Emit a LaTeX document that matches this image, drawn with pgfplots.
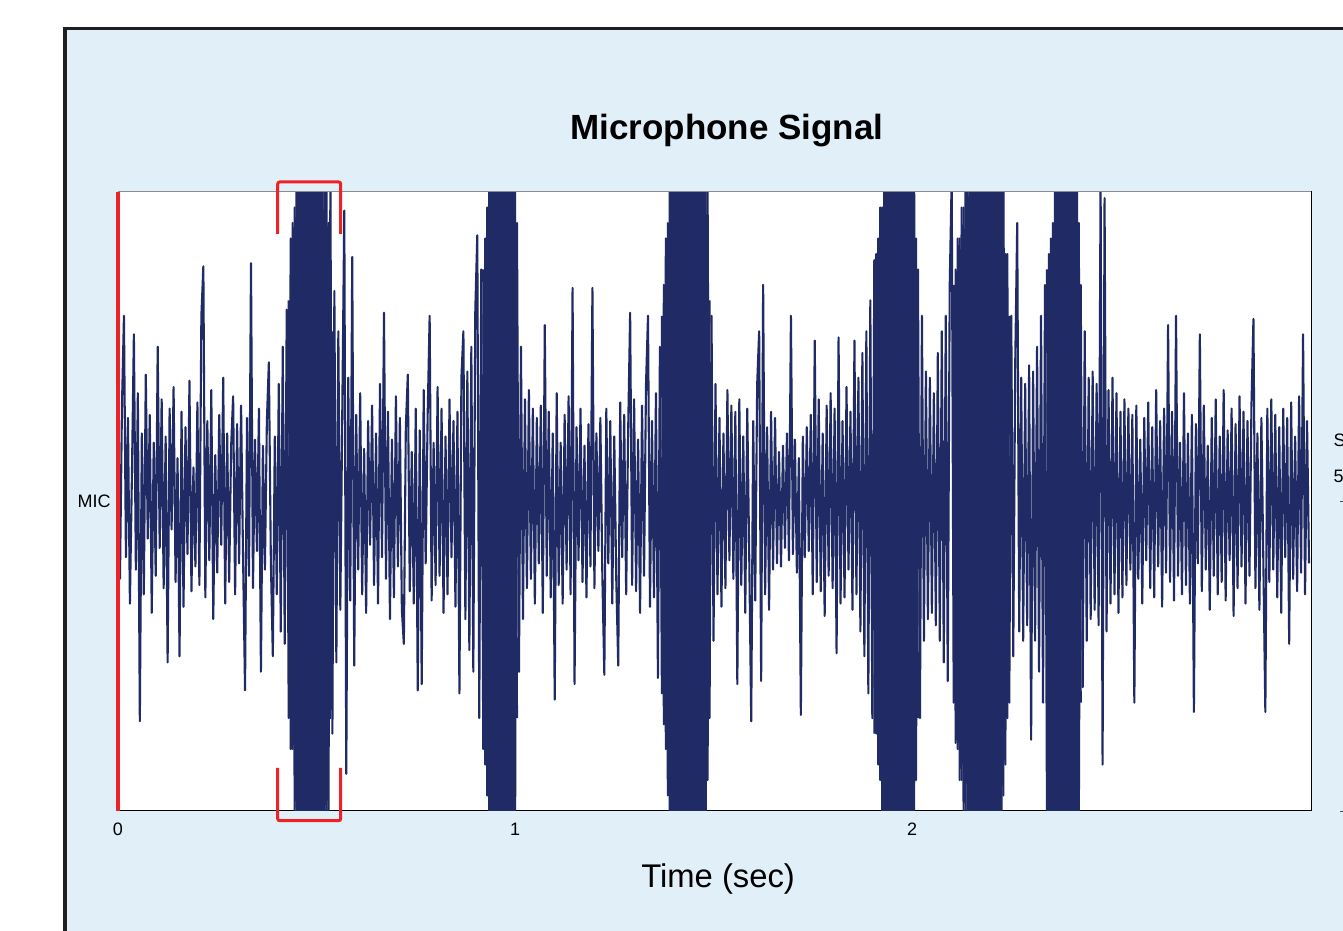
\documentclass[border=0pt]{standalone}
\usepackage{fontspec}
\setmainfont{Liberation Sans}
\usepackage{pgfplots}
\usepackage{pgfplotstable}
\pgfplotsset{compat=1.18}

\definecolor{panel}{RGB}{225,239,249}
\definecolor{sig}{RGB}{32,42,100}
\definecolor{redmark}{RGB}{236,34,38}

% microphone samples, 200 per second (0 ... 3 s)
\pgfplotstableread[row sep=\\]{
mic\\
0.12\\ -0.25\\ 0.31\\ 0.60\\ -0.18\\ 0.27\\ -0.33\\ 0.08\\ 0.54\\ -0.22\\
0.35\\ -0.71\\ 0.22\\ -0.30\\ 0.41\\ -0.12\\ 0.28\\ -0.36\\ 0.19\\ -0.24\\
0.50\\ -0.15\\ 0.33\\ -0.28\\ 0.21\\ -0.52\\ 0.30\\ -0.09\\ 0.37\\ -0.26\\
0.14\\ -0.50\\ 0.29\\ -0.34\\ 0.24\\ -0.17\\ 0.39\\ -0.29\\ 0.11\\ -0.21\\
0.32\\ -0.27\\ 0.60\\ 0.76\\ -0.31\\ 0.26\\ -0.19\\ 0.36\\ -0.38\\ 0.15\\
-0.23\\ 0.28\\ -0.14\\ 0.40\\ -0.33\\ 0.22\\ -0.26\\ 0.18\\ 0.34\\ -0.30\\
0.25\\ -0.20\\ 0.31\\ -0.18\\ -0.61\\ 0.27\\ -0.24\\ 0.77\\ -0.28\\ 0.20\\
-0.16\\ 0.30\\ -0.55\\ 0.18\\ -0.22\\ 0.26\\ 0.45\\ -0.19\\ -0.50\\ 0.21\\
-0.30\\ 0.38\\ -0.42\\ 0.50\\ -0.46\\ 0.62\\ -0.70\\ 0.85\\ -0.80\\ 0.95\\
-1.10\\ 1.20\\ -1.25\\ 1.30\\ -1.30\\ 1.35\\ -1.30\\ 1.40\\ -1.35\\ 1.35\\
-1.40\\ 1.30\\ -1.30\\ 1.25\\ -1.30\\ 1.20\\ -1.10\\ 1.05\\ -0.75\\ 0.68\\
-0.52\\ 0.55\\ -0.35\\ 0.30\\ 0.94\\ -0.88\\ 0.40\\ -0.32\\ 0.79\\ -0.53\\
0.28\\ -0.22\\ 0.35\\ -0.30\\ 0.17\\ -0.36\\ 0.26\\ -0.14\\ 0.31\\ -0.27\\
0.22\\ -0.33\\ 0.38\\ -0.18\\ 0.61\\ -0.25\\ 0.29\\ -0.38\\ 0.20\\ -0.31\\
0.34\\ -0.21\\ 0.27\\ -0.35\\ -0.46\\ 0.24\\ 0.41\\ -0.29\\ 0.16\\ -0.33\\
0.30\\ -0.61\\ 0.23\\ -0.59\\ 0.36\\ -0.20\\ 0.28\\ 0.60\\ -0.32\\ 0.19\\
-0.27\\ 0.37\\ -0.24\\ 0.30\\ -0.36\\ 0.21\\ -0.30\\ 0.33\\ -0.18\\ 0.26\\
-0.34\\ 0.29\\ -0.62\\ 0.40\\ 0.55\\ -0.38\\ 0.42\\ -0.48\\ 0.50\\ -0.55\\
0.62\\ 0.86\\ -0.70\\ 0.75\\ -0.80\\ 0.85\\ -0.95\\ 1.05\\ -1.15\\ 1.20\\
-1.25\\ 1.30\\ -1.30\\ 1.35\\ -1.30\\ 1.30\\ -1.35\\ 1.30\\ -1.25\\ 1.30\\
-1.15\\ 0.90\\ -0.55\\ 0.50\\ -0.38\\ 0.33\\ -0.28\\ 0.36\\ -0.25\\ 0.30\\
-0.33\\ 0.27\\ -0.20\\ 0.31\\ -0.36\\ 0.57\\ -0.24\\ 0.29\\ -0.31\\ 0.22\\
-0.64\\ 0.35\\ -0.27\\ 0.19\\ -0.33\\ 0.28\\ -0.22\\ 0.34\\ -0.30\\ 0.69\\
-0.59\\ 0.24\\ -0.19\\ 0.30\\ -0.26\\ 0.18\\ -0.31\\ 0.25\\ -0.21\\ 0.69\\
-0.28\\ 0.22\\ -0.16\\ 0.27\\ -0.24\\ -0.56\\ 0.30\\ -0.20\\ 0.26\\ -0.33\\
0.21\\ -0.25\\ -0.53\\ 0.32\\ -0.18\\ 0.28\\ -0.30\\ 0.23\\ 0.61\\ -0.27\\
0.33\\ -0.29\\ 0.20\\ -0.36\\ 0.31\\ -0.24\\ 0.38\\ 0.60\\ -0.34\\ 0.26\\
-0.31\\ 0.35\\ -0.57\\ 0.50\\ -0.62\\ 0.70\\ -0.80\\ 0.90\\ -1.10\\ 1.20\\
-1.30\\ 1.30\\ -1.35\\ 1.30\\ -1.30\\ 1.35\\ -1.30\\ 1.30\\ -1.35\\ 1.30\\
-1.30\\ 1.35\\ -1.30\\ 1.25\\ -1.30\\ 1.20\\ -1.15\\ 1.05\\ -0.70\\ 0.60\\
-0.45\\ 0.38\\ -0.30\\ 0.27\\ -0.34\\ 0.22\\ -0.28\\ 0.36\\ -0.19\\ 0.31\\
-0.25\\ 0.29\\ -0.59\\ 0.33\\ -0.27\\ 0.21\\ -0.36\\ 0.30\\ -0.18\\ -0.71\\
0.26\\ -0.32\\ 0.38\\ 0.55\\ -0.58\\ 0.70\\ -0.30\\ 0.24\\ -0.35\\ 0.29\\
-0.22\\ 0.27\\ -0.20\\ 0.16\\ -0.21\\ 0.18\\ -0.15\\ 0.22\\ -0.19\\ 0.60\\
-0.17\\ 0.20\\ -0.23\\ 0.14\\ -0.69\\ 0.21\\ -0.18\\ 0.24\\ -0.16\\ 0.28\\
-0.30\\ 0.52\\ -0.26\\ 0.33\\ -0.29\\ 0.22\\ -0.37\\ 0.31\\ -0.24\\ 0.35\\
-0.28\\ 0.30\\ -0.49\\ 0.53\\ -0.33\\ 0.26\\ -0.31\\ 0.37\\ -0.22\\ 0.29\\
-0.35\\ 0.52\\ -0.30\\ 0.40\\ -0.42\\ 0.48\\ -0.50\\ 0.55\\ -0.62\\ 0.65\\
-0.70\\ 0.78\\ -0.75\\ 0.85\\ -0.90\\ 0.95\\ -1.00\\ 1.05\\ -1.20\\ 1.25\\
-1.30\\ 1.30\\ -1.35\\ 1.30\\ -1.30\\ 1.35\\ -1.30\\ 1.30\\ -1.35\\ 1.30\\
-1.25\\ 1.20\\ -0.90\\ 0.75\\ -0.70\\ 0.60\\ -0.45\\ 0.42\\ -0.38\\ 0.40\\
-0.36\\ 0.35\\ -0.40\\ 0.48\\ -0.45\\ 0.55\\ -0.52\\ 0.60\\ -0.58\\ 0.70\\
1.05\\ -0.65\\ 0.75\\ -0.80\\ 0.85\\ -0.90\\ 0.95\\ -1.00\\ 1.10\\ -1.20\\
1.30\\ -1.30\\ 1.35\\ -1.30\\ 1.30\\ -1.35\\ 1.30\\ -1.30\\ 1.35\\ -1.30\\
1.30\\ -1.35\\ 1.30\\ -1.30\\ 1.25\\ -1.25\\ 1.20\\ -0.85\\ 0.80\\ -0.65\\
0.60\\ -0.50\\ 0.45\\ 0.90\\ -0.42\\ 0.40\\ -0.45\\ 0.38\\ -0.40\\ 0.44\\
-0.77\\ 0.42\\ -0.45\\ 0.50\\ -0.55\\ 0.60\\ -0.65\\ 0.70\\ -1.05\\ 0.80\\
-1.10\\ 0.90\\ -1.20\\ 1.05\\ -1.30\\ 1.30\\ -1.35\\ 1.30\\ -1.30\\ 1.35\\
-1.30\\ 1.30\\ -1.25\\ 1.20\\ -1.10\\ 0.70\\ -0.60\\ 0.55\\ -0.45\\ 0.40\\
-0.38\\ 0.42\\ -0.35\\ 0.38\\ -0.40\\ 1.05\\ -0.85\\ 0.98\\ -0.42\\ 0.36\\
-0.33\\ 0.40\\ -0.30\\ 0.35\\ -0.36\\ 0.29\\ -0.31\\ 0.33\\ -0.27\\ 0.30\\
-0.22\\ 0.28\\ -0.65\\ 0.31\\ -0.25\\ 0.20\\ -0.33\\ 0.27\\ -0.19\\ 0.32\\
-0.28\\ 0.24\\ -0.31\\ 0.36\\ -0.21\\ 0.26\\ -0.34\\ 0.30\\ -0.23\\ 0.57\\
-0.26\\ 0.29\\ -0.32\\ 0.60\\ -0.24\\ 0.19\\ -0.30\\ 0.35\\ -0.27\\ 0.22\\
-0.33\\ 0.28\\ -0.68\\ 0.25\\ -0.20\\ 0.54\\ -0.29\\ 0.31\\ -0.22\\ 0.18\\
-0.35\\ 0.27\\ -0.24\\ 0.33\\ -0.30\\ 0.21\\ -0.26\\ 0.36\\ -0.32\\ 0.23\\
-0.19\\ 0.30\\ -0.37\\ 0.25\\ -0.28\\ 0.34\\ -0.21\\ 0.29\\ -0.33\\ 0.26\\
-0.24\\ 0.31\\ 0.59\\ -0.28\\ 0.22\\ -0.35\\ 0.27\\ -0.20\\ -0.68\\ 0.30\\
-0.26\\ 0.33\\ -0.22\\ 0.28\\ -0.31\\ 0.24\\ -0.36\\ 0.30\\ -0.18\\ 0.27\\
-0.46\\ 0.32\\ -0.25\\ 0.21\\ -0.29\\ 0.34\\ -0.23\\ 0.54\\ -0.30\\ 0.26\\
-0.20\\
}\micdata

\begin{document}
\begin{tikzpicture}[x=0.5pt,y=0.5pt]
\path[use as bounding box] (0,0) rectangle (1343,931);
% light blue panel with dark frame (cut by the page edge)
\fill[panel] (65,-20) rectangle (1420,902.7);
\draw[black!88, line width=1.75pt] (65,-20) -- (65,902.7) -- (1420,902.7);

\begin{axis}[
    at={(59pt,60pt)}, anchor=south west,
    scale only axis,
    width=596.5pt, height=309.5pt,
    xmin=0, xmax=601,
    ymin=-1, ymax=1,
    axis background/.style={fill=white},
    axis line style={black, line width=0.5pt},
    xtick={0,200,400},
    xticklabels={0,1,2},
    ytick=\empty,
    xtick pos=bottom,
    tick align=inside,
    major tick length=2pt,
    tick style={black, line width=0.4pt},
    xticklabel style={font=\fontsize{9}{10}\selectfont, anchor=north, inner sep=0pt, yshift=-5.85pt},
    /pgf/number format/assume math mode=true,
    title={Microphone Signal},
    title style={at={(axis description cs:0.5105,1.085)}, anchor=base, yshift=-6pt,
        font=\bfseries\fontsize{17.5}{20}\selectfont},
    xlabel={Time (sec)},
    xlabel style={at={(axis description cs:0.503,-0.1228)}, anchor=base,
        font=\fontsize{16.4}{19}\selectfont},
    sigline/.style={sig, line width=1.05pt, line join=round, mark=none},
]
\addplot[sigline] table[x expr=\coordindex, y=mic] {\micdata};
% second oscillation phase inside the loud bursts (fills the dense cores)
\addplot[sigline] coordinates {
(86,0.65)(87,-0.80)(88,0.90)(89,-1.00)(90,1.15)(91,-1.25)(92,1.30)(93,-1.35)
(94,1.30)(95,-1.30)(96,1.35)(97,-1.30)(98,1.30)(99,-1.35)(100,1.30)(101,-1.30)
(102,1.25)(103,-1.20)(104,1.10)(105,-1.05)(106,0.90)(107,-0.70)(108,0.55)};
\addplot[sigline] coordinates {
(184,0.75)(185,-0.85)(186,0.95)(187,-1.05)(188,1.15)(189,-1.25)(190,1.30)
(191,-1.30)(192,1.35)(193,-1.30)(194,1.30)(195,-1.35)(196,1.30)(197,-1.30)
(198,1.30)(199,-1.20)(200,1.05)(201,-0.70)};
\addplot[sigline] coordinates {
(274,0.60)(275,-0.72)(276,0.85)(277,-0.95)(278,1.15)(279,-1.25)(280,1.30)
(281,-1.30)(282,1.35)(283,-1.30)(284,1.30)(285,-1.35)(286,1.30)(287,-1.30)
(288,1.35)(289,-1.30)(290,1.30)(291,-1.30)(292,1.25)(293,-1.30)(294,1.20)
(295,-1.15)(296,1.05)(297,-0.90)(298,0.65)};
\addplot[sigline] coordinates {
(381,-0.75)(382,0.80)(383,-0.85)(384,0.95)(385,-1.00)(386,1.10)(387,-1.15)
(388,1.25)(389,-1.30)(390,1.30)(391,-1.35)(392,1.30)(393,-1.30)(394,1.35)
(395,-1.30)(396,1.30)(397,-1.35)(398,1.30)(399,-1.30)(400,1.25)(401,-1.10)
(402,0.85)(403,-0.70)};
\addplot[sigline] coordinates {
(421,0.70)(422,-0.78)(423,0.85)(424,-0.90)(425,0.95)(426,-1.05)(427,1.10)
(428,-1.20)(429,1.25)(430,-1.30)(431,1.30)(432,-1.35)(433,1.30)(434,-1.30)
(435,1.35)(436,-1.30)(437,1.30)(438,-1.30)(439,1.35)(440,-1.30)(441,1.30)
(442,-1.25)(443,1.25)(444,-1.20)(445,1.10)(446,-0.95)(447,0.80)(448,-0.70)
(449,0.60)};
\addplot[sigline] coordinates {
(468,0.75)(469,-1.05)(470,0.85)(471,-1.15)(472,1.00)(473,-1.25)(474,1.20)
(475,-1.30)(476,1.30)(477,-1.35)(478,1.30)(479,-1.30)(480,1.30)(481,-1.25)
(482,1.20)(483,-1.15)(484,0.90)(485,-0.65)};
\end{axis}

% MIC channel label
\node[anchor=east, inner sep=0pt, font=\fontsize{9}{10}\selectfont] at (111,429.5) {MIC};
% top frame line in grey
\draw[black!45, line width=0.5pt] (118,739) -- (1311,739);
% red cursor at t = 0
\draw[redmark, line width=1.9pt] (118,120) -- (118,739);
% red brackets marking the first burst
\draw[redmark, line width=1.5pt, rounded corners=1pt]
    (277.7,697) -- (277.7,749) -- (340.7,749) -- (340.7,697);
\draw[redmark, line width=1.5pt, rounded corners=1pt]
    (277.7,163) -- (277.7,110.3) -- (340.7,110.3) -- (340.7,163);
% neighbouring panel, cut off at the right edge
\node[anchor=west, inner sep=0pt, font=\fontsize{9}{10}\selectfont] at (1333.3,490.3) {S};
\node[anchor=west, inner sep=0pt, font=\fontsize{9}{10}\selectfont] at (1333.3,454.3) {5};
\draw[black!70, line width=0.4pt] (1340,429.3) -- (1346,429.3);
\draw[black!70, line width=0.4pt] (1340,119.3) -- (1346,119.3);
\end{tikzpicture}
\end{document}
